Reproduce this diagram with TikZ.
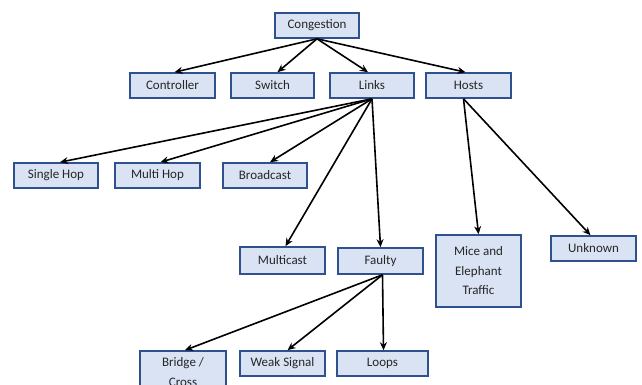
\documentclass[tikz,border=0pt]{standalone}
\usepackage{fontspec}
\setmainfont{Carlito}
\usetikzlibrary{arrows.meta}
\definecolor{boxfill}{HTML}{DAE3F3}
\definecolor{boxline}{HTML}{2F528F}
\begin{document}
\begin{tikzpicture}[x=1pt,y=-1pt,
  box/.style={draw=boxline, fill=boxfill, line width=1.6pt, inner sep=0pt,
    align=center, font=\fontsize{13}{19.5}\selectfont, text=black!85},
  link/.style={-{Stealth[length=8pt,width=7pt]}, line width=1.6pt, black}]
\clip (0,0) rectangle (642,385);
\fill[white] (0,0) rectangle (642,385);
% helper: box from corners
\newcommand{\bx}[6]{\node[box, minimum width=#4-#2, minimum height=#5-#3] (#1) at ({(#2+#4)/2},{(#3+#5)/2}) {#6};}
\bx{cong}{275}{13}{359}{38}{Congestion}
\bx{ctrl}{130}{73}{215}{98}{Controller}
\bx{sw}{231}{73}{314}{98}{Switch}
\bx{links}{330}{73}{414}{98}{Links}
\bx{hosts}{426}{73}{511}{98}{Hosts}
\bx{single}{14}{163}{98}{188}{Single Hop}
\bx{multi}{115}{163}{200}{188}{Multi Hop}
\bx{bcast}{223}{163}{307}{188}{Broadcast}
\bx{mcast}{240}{247}{325}{274}{Multicast}
\bx{faulty}{338}{248}{423}{274}{Faulty}
\bx{mice}{436}{235}{521}{307}{Mice and\\Elephant\\Traffic}
\bx{unk}{551}{236}{636}{261}{Unknown}
\bx{bridge}{140}{351}{226}{393}{Bridge /\\Cross}
\bx{weak}{240}{351}{325}{376}{Weak Signal}
\bx{loops}{337}{351}{428}{376}{Loops}
% connectors
\draw[link] (cong.south) -- ([xshift=2pt]ctrl.north);
\draw[link] (cong.south) -- ([xshift=5pt]sw.north);
\draw[link] (cong.south) -- ([xshift=-4pt]links.north);
\draw[link] (cong.south) -- ([xshift=-3pt]hosts.north);
\draw[link] (links.south) -- ([xshift=4pt]single.north);
\draw[link] (links.south) -- ([xshift=3pt]multi.north);
\draw[link] (links.south) -- ([xshift=5pt]bcast.north);
\draw[link] (links.south) -- ([xshift=3pt]mcast.north);
\draw[link] (links.south) -- (faulty.north);
\draw[link] ([xshift=-5pt]hosts.south) -- (mice.north);
\draw[link] ([xshift=-5pt]hosts.south) -- ([xshift=-3pt]unk.north);
\draw[link] ([xshift=2pt]faulty.south) -- ([xshift=2pt]bridge.north);
\draw[link] ([xshift=2pt]faulty.south) -- ([xshift=5pt]weak.north);
\draw[link] ([xshift=2pt]faulty.south) -- ([xshift=1pt]loops.north);
\end{tikzpicture}
\end{document}
